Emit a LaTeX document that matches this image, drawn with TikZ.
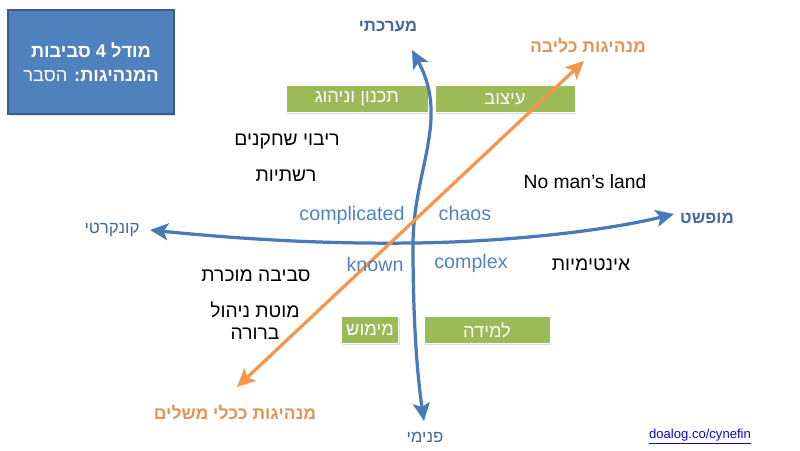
\documentclass[tikz,border=0pt]{standalone}
\usepackage{fontspec}
\setmainfont{Liberation Sans}
\newfontfamily\hebfont[Script=Hebrew]{Liberation Sans}
\TeXXeTstate=1
\usetikzlibrary{arrows.meta,shadows}
\definecolor{boxblue}{RGB}{79,129,189}
\definecolor{boxedge}{RGB}{56,93,138}
\definecolor{axisblue}{RGB}{72,122,185}
\definecolor{axistxt}{RGB}{70,104,150}
\definecolor{zonetxt}{RGB}{84,130,190}
\definecolor{leafgreen}{RGB}{155,187,89}
\definecolor{coreorange}{RGB}{245,150,75}
\definecolor{orangetxt}{RGB}{226,148,88}
\definecolor{linkblue}{RGB}{10,10,190}
\newcommand{\heb}[1]{{\hebfont\beginR #1\endR}}

\begin{document}
\begin{tikzpicture}[
    x=0.025cm, y=-0.025cm,
    tag/.style={fill=leafgreen, draw=white, line width=0.6pt, text=white, minimum height=0.68cm,
      font=\fontsize{13}{15}\selectfont,
      drop shadow={opacity=0.3, shadow xshift=0.03cm, shadow yshift=-0.04cm}},
    plain/.style={font=\fontsize{13.7}{15.6}\selectfont, align=center},
    zone/.style={text=zonetxt, font=\fontsize{14}{16}\selectfont},
    axislbl/.style={text=axistxt, font=\fontsize{12}{14}\selectfont},
    corelbl/.style={text=orangetxt, font=\fontsize{12.5}{15}\selectfont\bfseries},
    axis/.style={draw=axisblue, line width=2.3pt, {Stealth[length=0.45cm, width=0.42cm, inset=0.1cm]}-{Stealth[length=0.45cm, width=0.42cm, inset=0.1cm]}},
    core/.style={draw=coreorange, line width=2.3pt, {Stealth[length=0.45cm, width=0.42cm, inset=0.1cm]}-{Stealth[length=0.45cm, width=0.42cm, inset=0.1cm]}}
]
\useasboundingbox (0,0) rectangle (800,450);

% title box
\node[fill=boxblue, draw=boxedge, line width=1pt, minimum width=4.15cm, minimum height=2.6cm,
  text=white, align=center, font=\fontsize{13}{17}\selectfont,
  drop shadow={opacity=0.2, shadow xshift=0.03cm, shadow yshift=-0.04cm}] (title) at (91,62)
  {\heb{\bfseries מודל 4 סביבות}\\\heb{{\bfseries המנהיגות:} הסבר}};

% green tags
\node[tag, minimum width=3.55cm] (plan) at (357,99) {\heb{תכנון וניהוג}};
\node[tag, minimum width=3.5cm] (design) at (505,99) {\heb{עיצוב}};
\node[tag, minimum width=1.4cm] (impl) at (370,330) {\heb{מימוש}};
\node[tag, minimum width=3.15cm] (learn) at (487,330) {\heb{למידה}};

% axis end points
\coordinate (top) at (412,50);
\coordinate (mid) at (413,245);
\coordinate (bottom) at (424,421);
\coordinate (left) at (150,230);
\coordinate (right) at (674,214);
\coordinate (coreend) at (584,61);
\coordinate (toolend) at (237,387);

\draw[axis] (top) .. controls (450,120) and (413,170) .. (mid)
  .. controls (413,330) and (418,380) .. (bottom);
\draw[axis] (left) .. controls (250,240) and (330,244) .. (413,243)
  .. controls (500,242) and (600,232) .. (right);
\draw[core] (toolend) -- (coreend);

% axis labels
\node[axislbl, font=\fontsize{12}{14}\selectfont\bfseries] (systemic) at (388,27) {\heb{מערכתי}};
\node[axislbl] (inner) at (425,437) {\heb{פנימי}};
\node[axislbl] (concrete) at (112,230) {\heb{קונקרטי}};
\node[axislbl, font=\fontsize{12}{14}\selectfont\bfseries] (abstract) at (707,218) {\heb{מופשט}};
\node[corelbl] (corelead) at (588,46) {\heb{מנהיגות כליבה}};
\node[corelbl] (toollead) at (235,413) {\heb{מנהיגות ככלי משלים}};

% domains
\node[zone] (complicated) at (352,215) {complicated};
\node[zone] (chaos) at (465,213) {chaos};
\node[zone] (known) at (375,264) {known};
\node[zone] (complex) at (471,263) {complex};

% notes
\node[plain] (players) at (287,142) {\heb{ריבוי שחקנים}};
\node[plain] (networks) at (286,176) {\heb{רשתיות}};
\node[plain] (noman) at (585,182) {No man’s land};
\node[plain] (intimacy) at (591,265) {\heb{אינטימיות}};
\node[plain] (familiar) at (256,276) {\heb{סביבה מוכרת}};
\node[plain] (span) at (255,321) {\heb{מוטת ניהול}\\\heb{ברורה}};

\node[text=linkblue, font=\fontsize{9.3}{11}\selectfont] (link) at (700,437) {\underline{doalog.co/cynefin}};
\end{tikzpicture}
\end{document}
